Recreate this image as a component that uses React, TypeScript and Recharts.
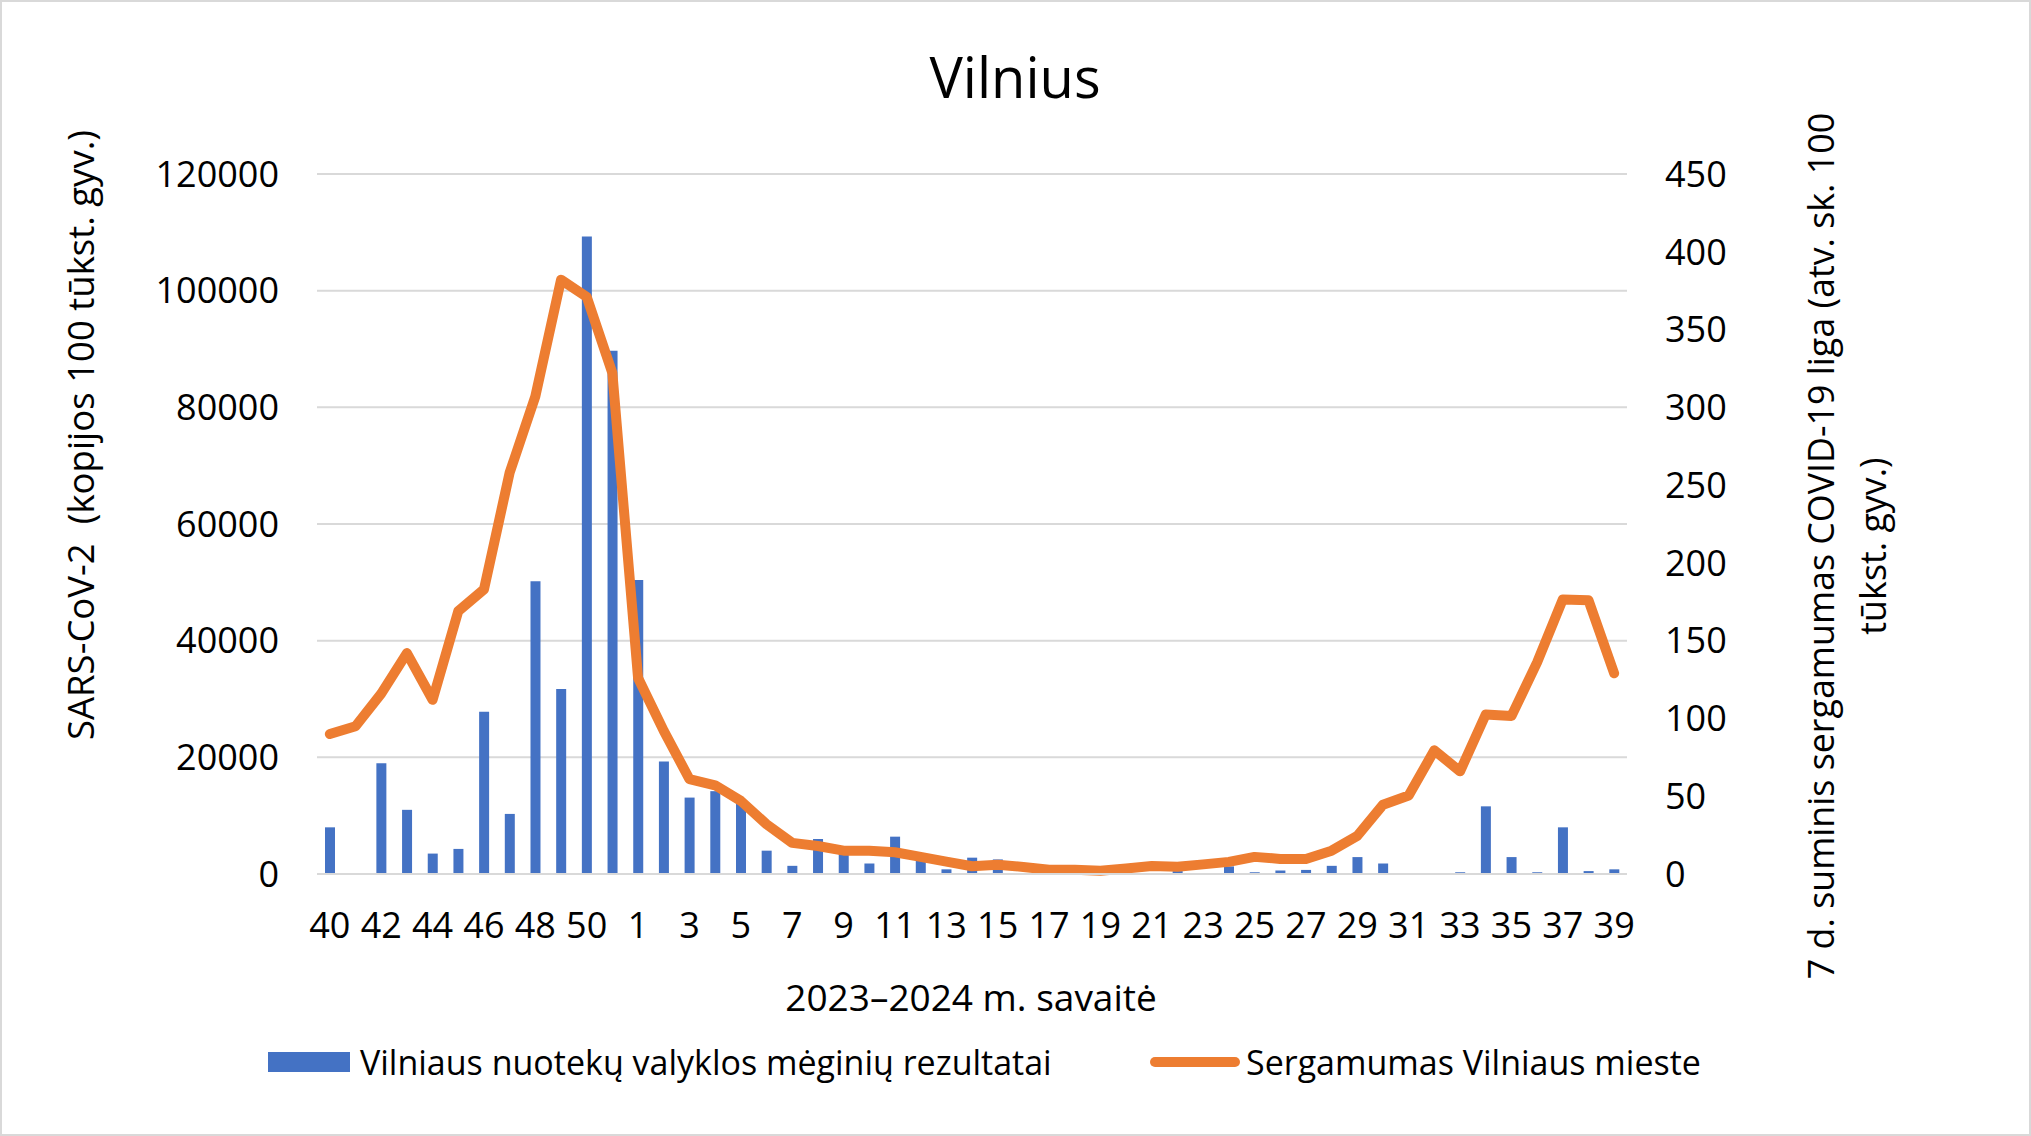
import { ComposedChart, Bar, Line, XAxis, YAxis, CartesianGrid } from 'recharts';

const weeks = [
  '40', '41', '42', '43', '44', '45', '46', '47', '48', '49', '50', '51',
  '1', '2', '3', '4', '5', '6', '7', '8', '9', '10', '11', '12', '13',
  '14', '15', '16', '17', '18', '19', '20', '21', '22', '23', '24', '25', '26',
  '27', '28', '29', '30', '31', '32', '33', '34', '35', '36', '37', '38', '39',
];

// SARS-CoV-2 kopijos 100 tukst. gyv. (left axis)
const wastewater = [
  8000, 0, 19000, 11000, 3500, 4300, 27800, 10300, 50200, 31700, 109300, 89700,
  50400, 19300, 13100, 14200, 12400, 4000, 1400, 6000, 4200, 1800, 6400, 3000, 800,
  2800, 2500, 0, 0, 0, 0, 0, 0, 500, 150, 1300, 300, 600,
  700, 1400, 2900, 1800, 0, 0, 300, 11600, 2900, 300, 8000, 500, 800,
];

// 7 d. suminis sergamumas (right axis)
const incidence = [
  90, 95, 116, 142, 112, 169, 183, 258, 307, 382, 371, 322,
  126, 92, 61, 57, 47, 32, 20, 18, 15, 15, 14, 11, 8,
  5, 6, 4.5, 2.7, 2.7, 2.1, 3.5, 5.1, 4.7, 6.2, 7.8, 11, 9.7,
  9.7, 15, 24.5, 44.5, 50.5, 79.5, 66, 102.5, 101.5, 136, 176.5, 176, 129,
];

const leftTicks = [0, 20000, 40000, 60000, 80000, 100000, 120000];
const rightTicks = [0, 50, 100, 150, 200, 250, 300, 350, 400, 450];

const seriesNames = {
  ww: 'Vilniaus nuotekų valyklos mėginių rezultatai',
  inc: 'Sergamumas Vilniaus mieste',
};

const BLUE = '#4472C4';
const ORANGE = '#ED7D31';
const GRID = '#d9d9d9';
const FONT = '"Open Sans", sans-serif';

const rows = weeks.map((week, i) => ({ week, ww: wastewater[i], inc: incidence[i] }));

export default function App() {
  const tickStyle = { fill: '#000', fontSize: 36, fontFamily: FONT };

  return (
    <div
      style={{
        position: 'absolute',
        left: 0,
        top: 0,
        width: 2031,
        height: 1136,
        background: '#fff',
        boxShadow: `inset 0 0 0 2px ${GRID}`,
        fontFamily: FONT,
        color: '#000',
        overflow: 'hidden',
      }}
    >
      <ComposedChart
        width={2031}
        height={1136}
        data={rows}
        margin={{ top: 174, right: 0, bottom: 182, left: 0 }}
        style={{ position: 'absolute', left: 0, top: 0 }}
      >
        <CartesianGrid vertical={false} stroke={GRID} strokeWidth={2} yAxisId="left" />
        <XAxis
          dataKey="week"
          interval={1}
          height={80}
          tickLine={false}
          tickSize={0}
          tickMargin={38}
          axisLine={{ stroke: GRID, strokeWidth: 2 }}
          tick={tickStyle}
        />
        <YAxis
          yAxisId="left"
          width={317}
          domain={[0, 120000]}
          ticks={leftTicks}
          axisLine={false}
          tickLine={false}
          tickSize={0}
          tickMargin={38}
          tick={tickStyle}
        />
        <YAxis
          yAxisId="right"
          orientation="right"
          width={404}
          domain={[0, 450]}
          ticks={rightTicks}
          axisLine={false}
          tickLine={false}
          tickSize={0}
          tickMargin={38}
          tick={tickStyle}
        />
        <Bar yAxisId="left" dataKey="ww" fill={BLUE} barSize={10} isAnimationActive={false} />
        <Line
          yAxisId="right"
          dataKey="inc"
          type="linear"
          stroke={ORANGE}
          strokeWidth={10}
          strokeLinecap="round"
          strokeLinejoin="round"
          dot={false}
          activeDot={false}
          isAnimationActive={false}
        />
      </ComposedChart>

      {/* title */}
      <div style={{ position: 'absolute', left: 1015, top: 76, transform: 'translate(-50%, -50%)', fontSize: 56, lineHeight: 1, whiteSpace: 'nowrap' }}>
        Vilnius
      </div>

      {/* left axis title */}
      <div style={{ position: 'absolute', left: 80, top: 435, transform: 'translate(-50%, -50%) rotate(-90deg)', fontSize: 36.5, lineHeight: 1, whiteSpace: 'pre' }}>
        {'SARS-CoV-2  (kopijos 100 tūkst. gyv.)'}
      </div>

      {/* right axis title */}
      <div style={{ position: 'absolute', left: 1846, top: 546, transform: 'translate(-50%, -50%) rotate(-90deg)', fontSize: 35.8, lineHeight: '52px', whiteSpace: 'nowrap', textAlign: 'center' }}>
        7 d. suminis sergamumas COVID-19 liga (atv. sk. 100
        <br />
        tūkst. gyv.)
      </div>

      {/* x axis title */}
      <div style={{ position: 'absolute', left: 971, top: 996, transform: 'translate(-50%, -50%)', fontSize: 37, lineHeight: 1, whiteSpace: 'nowrap' }}>
        2023–2024 m. savaitė
      </div>

      {/* legend */}
      <div style={{ position: 'absolute', left: 268, top: 1052, width: 82, height: 20, background: BLUE }} />
      <div style={{ position: 'absolute', left: 360, top: 1062, transform: 'translateY(-50%)', fontSize: 34, lineHeight: 1, whiteSpace: 'nowrap' }}>
        {seriesNames.ww}
      </div>
      <div style={{ position: 'absolute', left: 1150, top: 1057, width: 90, height: 10, borderRadius: 5, background: ORANGE }} />
      <div style={{ position: 'absolute', left: 1246, top: 1062, transform: 'translateY(-50%)', fontSize: 34, lineHeight: 1, whiteSpace: 'nowrap' }}>
        {seriesNames.inc}
      </div>
    </div>
  );
}
